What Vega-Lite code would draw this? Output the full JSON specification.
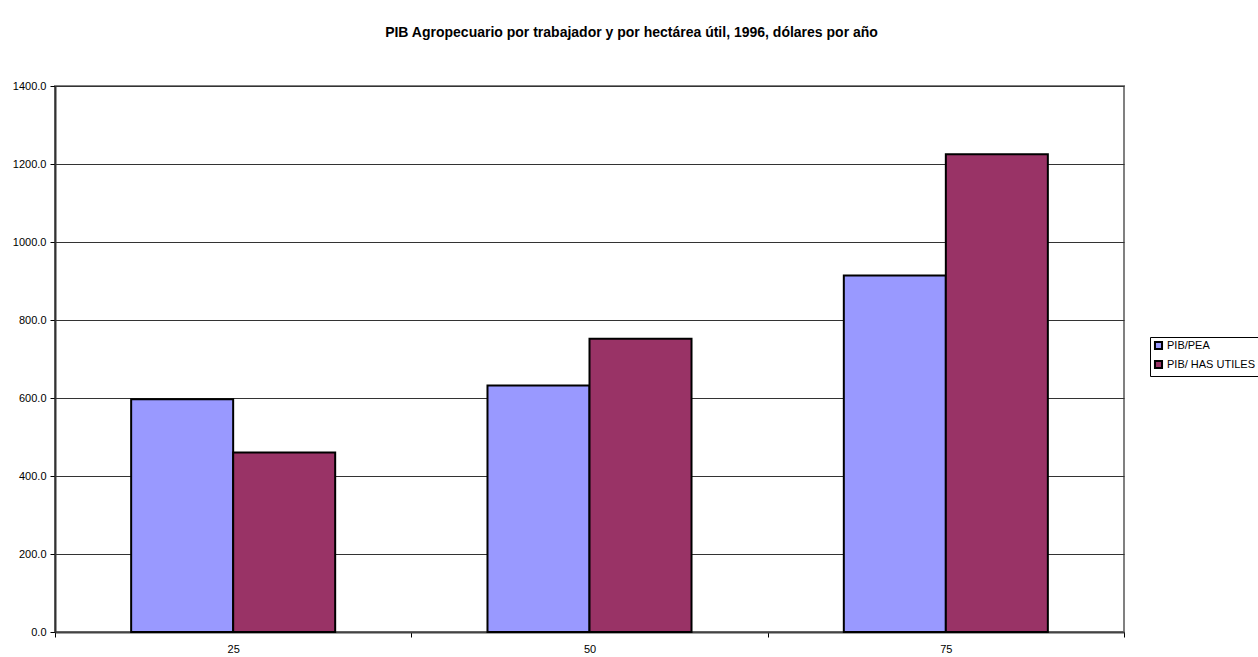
{
  "$schema": "https://vega.github.io/schema/vega-lite/v6.json",
  "autosize": "none",
  "width": 1069,
  "height": 546,
  "padding": {"left": 55, "top": 86, "right": 134, "bottom": 25},
  "background": "white",
  "title": {
    "text": "PIB Agropecuario por trabajador y por hectárea útil, 1996, dólares por año",
    "font": "Liberation Sans",
    "fontSize": 14,
    "fontWeight": "bold",
    "color": "black",
    "anchor": "middle",
    "dx": 42,
    "offset": 40
  },
  "config": {
    "font": "Liberation Sans",
    "view": {"stroke": "#808080", "strokeWidth": 2}
  },
  "data": {
    "values": [
      {"cat": "25", "serie": "PIB/PEA", "valor": 597},
      {"cat": "25", "serie": "PIB/ HAS UTILES", "valor": 460},
      {"cat": "50", "serie": "PIB/PEA", "valor": 632},
      {"cat": "50", "serie": "PIB/ HAS UTILES", "valor": 752},
      {"cat": "75", "serie": "PIB/PEA", "valor": 914},
      {"cat": "75", "serie": "PIB/ HAS UTILES", "valor": 1225}
    ]
  },
  "mark": {"type": "bar", "stroke": "black", "strokeWidth": 2},
  "encoding": {
    "x": {
      "field": "cat",
      "type": "nominal",
      "sort": ["25", "50", "75"],
      "scale": {"paddingInner": 0, "paddingOuter": 0},
      "axis": {
        "title": null,
        "labelAngle": 0,
        "labelFont": "Liberation Sans",
        "labelFontSize": 11,
        "labelColor": "black",
        "labelPadding": 6,
        "tickBand": "extent",
        "tickColor": "black",
        "tickSize": 5,
        "domainColor": "#444444",
        "domainWidth": 2
      }
    },
    "xOffset": {
      "field": "serie",
      "type": "nominal",
      "sort": ["PIB/PEA", "PIB/ HAS UTILES"],
      "scale": {"paddingInner": 0, "paddingOuter": 0.7465}
    },
    "y": {
      "field": "valor",
      "type": "quantitative",
      "scale": {"domain": [0, 1400], "nice": false},
      "axis": {
        "title": null,
        "values": [0, 200, 400, 600, 800, 1000, 1200, 1400],
        "format": ".1f",
        "labelFont": "Liberation Sans",
        "labelFontSize": 11,
        "labelColor": "black",
        "labelPadding": 4,
        "tickColor": "black",
        "tickSize": 5,
        "domainColor": "#333333",
        "domainWidth": 2,
        "grid": true,
        "gridColor": "#333333",
        "gridWidth": 1
      }
    },
    "color": {
      "field": "serie",
      "type": "nominal",
      "sort": ["PIB/PEA", "PIB/ HAS UTILES"],
      "scale": {"domain": ["PIB/PEA", "PIB/ HAS UTILES"], "range": ["#9999FF", "#993366"]},
      "legend": {
        "title": null,
        "orient": "none",
        "legendX": 1095,
        "legendY": 251,
        "symbolType": "square",
        "symbolSize": 50,
        "symbolStrokeColor": "black",
        "symbolStrokeWidth": 2,
        "labelFont": "Liberation Sans",
        "labelFontSize": 11,
        "labelColor": "black",
        "labelOffset": 3,
        "rowPadding": 2,
        "padding": 3,
        "strokeColor": "black",
        "fillColor": "white"
      }
    }
  }
}
